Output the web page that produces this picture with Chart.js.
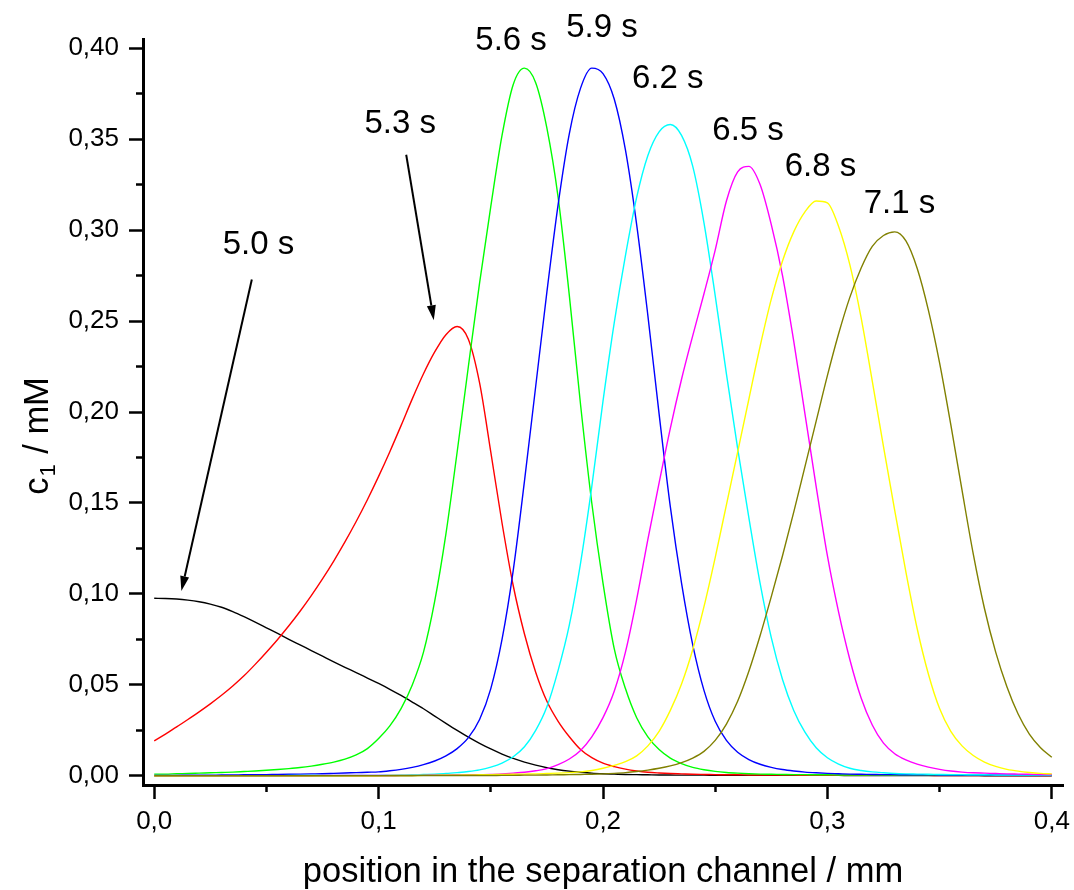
<!DOCTYPE html>
<html>
<head>
<meta charset="utf-8">
<script src="https://cdn.jsdelivr.net/npm/chart.js@4.4.1/dist/chart.umd.min.js"></script>
<style>
  html, body { margin: 0; padding: 0; background: #fff; }
  canvas { display: block; }
</style>
</head>
<body>
<canvas id="myChart" width="1074" height="890"></canvas>
<script>
// posiciones a lo largo del canal (mm)
const xs = [
  0.000, 0.005, 0.010, 0.015, 0.020, 0.025, 0.030, 0.035, 0.040, 0.045,
  0.050, 0.055, 0.060, 0.065, 0.070, 0.075, 0.080, 0.085, 0.090, 0.095,
  0.100, 0.105, 0.110, 0.115, 0.120, 0.125, 0.130, 0.135, 0.140, 0.145,
  0.150, 0.155, 0.160, 0.165, 0.170, 0.175, 0.180, 0.185, 0.190, 0.195,
  0.200, 0.205, 0.210, 0.215, 0.220, 0.225, 0.230, 0.235, 0.240, 0.245,
  0.250, 0.255, 0.260, 0.265, 0.270, 0.275, 0.280, 0.285, 0.290, 0.295,
  0.300, 0.305, 0.310, 0.315, 0.320, 0.325, 0.330, 0.335, 0.340, 0.345,
  0.350, 0.355, 0.360, 0.365, 0.370, 0.375, 0.380, 0.385, 0.390, 0.395,
  0.400
];

// c1 (mM) para cada tiempo
const c_50 = [
  0.0976, 0.0975, 0.0972, 0.0966, 0.0957, 0.0944, 0.0927, 0.0903, 0.0875, 0.0845,
  0.0814, 0.0783, 0.0751, 0.0720, 0.0689, 0.0658, 0.0627, 0.0597, 0.0568, 0.0538,
  0.0508, 0.0476, 0.0442, 0.0406, 0.0369, 0.0329, 0.0289, 0.0250, 0.0213, 0.0179,
  0.0148, 0.0120, 0.0096, 0.0076, 0.0059, 0.0045, 0.0034, 0.0026, 0.0020, 0.0015,
  0.0012, 0.0010, 0.0008, 0.0007, 0.0006, 0.0005, 0.0005, 0.0004, 0.0004, 0.0004,
  0.0003, 0.0003, 0.0003, 0.0003, 0.0003, 0.0003, 0.0003, 0.0003, 0.0003, 0.0003,
  0.0003, 0.0003, 0.0002, 0.0002, 0.0002, 0.0002, 0.0002, 0.0002, 0.0002, 0.0002,
  0.0002, 0.0002, 0.0002, 0.0002, 0.0001, 0.0001, 0.0001, 0.0001, 0.0001, 0.0001,
  0.0001
];
const c_53 = [
  0.0192, 0.0230, 0.0269, 0.0310, 0.0352, 0.0396, 0.0443, 0.0494, 0.0550, 0.0613,
  0.0680, 0.0750, 0.0825, 0.0905, 0.0991, 0.1083, 0.1181, 0.1286, 0.1398, 0.1518,
  0.1646, 0.1782, 0.1925, 0.2072, 0.2210, 0.2330, 0.2425, 0.2470, 0.2400, 0.2160,
  0.1780, 0.1390, 0.1045, 0.0780, 0.0570, 0.0410, 0.0300, 0.0215, 0.0145, 0.0100,
  0.0070, 0.0051, 0.0037, 0.0027, 0.0020, 0.0016, 0.0013, 0.0011, 0.0009, 0.0008,
  0.0007, 0.0006, 0.0006, 0.0005, 0.0005, 0.0004, 0.0004, 0.0004, 0.0003, 0.0003,
  0.0003, 0.0003, 0.0003, 0.0003, 0.0003, 0.0003, 0.0003, 0.0003, 0.0003, 0.0003,
  0.0002, 0.0002, 0.0002, 0.0002, 0.0002, 0.0002, 0.0002, 0.0002, 0.0002, 0.0002,
  0.0002
];
const c_56 = [
  0.0010, 0.0010, 0.0012, 0.0013, 0.0015, 0.0017, 0.0019, 0.0021, 0.0024, 0.0027,
  0.0031, 0.0035, 0.0040, 0.0046, 0.0054, 0.0064, 0.0076, 0.0092, 0.0115, 0.0150,
  0.0205, 0.0275, 0.0370, 0.0500, 0.0680, 0.0960, 0.1330, 0.1780, 0.2250, 0.2710,
  0.3130, 0.3520, 0.3800, 0.3890, 0.3810, 0.3560, 0.3180, 0.2640, 0.2040, 0.1500,
  0.1060, 0.0700, 0.0480, 0.0320, 0.0215, 0.0145, 0.0098, 0.0068, 0.0047, 0.0034,
  0.0025, 0.0019, 0.0015, 0.0012, 0.0010, 0.0009, 0.0008, 0.0007, 0.0007, 0.0006,
  0.0006, 0.0005, 0.0005, 0.0005, 0.0005, 0.0004, 0.0004, 0.0004, 0.0004, 0.0004,
  0.0004, 0.0003, 0.0003, 0.0003, 0.0003, 0.0003, 0.0003, 0.0003, 0.0003, 0.0003,
  0.0003
];
const c_59 = [
  0.0003, 0.0003, 0.0003, 0.0004, 0.0004, 0.0004, 0.0005, 0.0005, 0.0006, 0.0006,
  0.0007, 0.0008, 0.0009, 0.0010, 0.0011, 0.0012, 0.0014, 0.0016, 0.0018, 0.0020,
  0.0022, 0.0028, 0.0036, 0.0047, 0.0062, 0.0082, 0.0110, 0.0150, 0.0210, 0.0310,
  0.0480, 0.0750, 0.1130, 0.1620, 0.2140, 0.2660, 0.3140, 0.3530, 0.3780, 0.3890,
  0.3860, 0.3720, 0.3440, 0.3030, 0.2530, 0.1990, 0.1480, 0.1060, 0.0720, 0.0470,
  0.0300, 0.0195, 0.0130, 0.0090, 0.0064, 0.0047, 0.0035, 0.0027, 0.0021, 0.0017,
  0.0014, 0.0012, 0.0010, 0.0009, 0.0008, 0.0007, 0.0007, 0.0006, 0.0006, 0.0006,
  0.0005, 0.0005, 0.0005, 0.0005, 0.0005, 0.0005, 0.0005, 0.0005, 0.0005, 0.0005,
  0.0005
];
const c_62 = [
  0.0001, 0.0001, 0.0001, 0.0001, 0.0001, 0.0001, 0.0001, 0.0001, 0.0001, 0.0001,
  0.0001, 0.0001, 0.0002, 0.0002, 0.0002, 0.0002, 0.0002, 0.0003, 0.0003, 0.0003,
  0.0003, 0.0004, 0.0005, 0.0006, 0.0008, 0.0010, 0.0013, 0.0018, 0.0024, 0.0033,
  0.0048, 0.0070, 0.0105, 0.0160, 0.0250, 0.0380, 0.0580, 0.0830, 0.1170, 0.1590,
  0.2060, 0.2490, 0.2860, 0.3180, 0.3410, 0.3540, 0.3580, 0.3520, 0.3350, 0.3040,
  0.2640, 0.2210, 0.1800, 0.1420, 0.1060, 0.0760, 0.0530, 0.0360, 0.0240, 0.0155,
  0.0100, 0.0065, 0.0042, 0.0030, 0.0022, 0.0017, 0.0013, 0.0011, 0.0010, 0.0009,
  0.0008, 0.0007, 0.0007, 0.0006, 0.0006, 0.0005, 0.0005, 0.0005, 0.0004, 0.0004,
  0.0004
];
const c_65 = [
  0.0001, 0.0001, 0.0001, 0.0001, 0.0001, 0.0001, 0.0001, 0.0001, 0.0001, 0.0001,
  0.0001, 0.0001, 0.0001, 0.0001, 0.0001, 0.0002, 0.0002, 0.0002, 0.0002, 0.0002,
  0.0002, 0.0002, 0.0003, 0.0003, 0.0003, 0.0004, 0.0004, 0.0005, 0.0006, 0.0007,
  0.0008, 0.0011, 0.0015, 0.0020, 0.0028, 0.0040, 0.0062, 0.0093, 0.0140, 0.0215,
  0.0320, 0.0465, 0.0680, 0.0970, 0.1300, 0.1610, 0.1910, 0.2180, 0.2420, 0.2650,
  0.2890, 0.3160, 0.3320, 0.3350, 0.3250, 0.3030, 0.2750, 0.2390, 0.1990, 0.1590,
  0.1210, 0.0900, 0.0640, 0.0430, 0.0280, 0.0180, 0.0122, 0.0088, 0.0065, 0.0048,
  0.0036, 0.0027, 0.0021, 0.0017, 0.0015, 0.0013, 0.0011, 0.0010, 0.0009, 0.0008,
  0.0008
];
const c_68 = [
  0.0001, 0.0001, 0.0001, 0.0001, 0.0001, 0.0001, 0.0001, 0.0001, 0.0001, 0.0001,
  0.0001, 0.0001, 0.0001, 0.0001, 0.0001, 0.0001, 0.0001, 0.0001, 0.0001, 0.0001,
  0.0001, 0.0002, 0.0002, 0.0002, 0.0003, 0.0003, 0.0004, 0.0004, 0.0005, 0.0006,
  0.0007, 0.0008, 0.0009, 0.0010, 0.0011, 0.0013, 0.0015, 0.0018, 0.0022, 0.0030,
  0.0042, 0.0058, 0.0078, 0.0110, 0.0165, 0.0245, 0.0360, 0.0505, 0.0695, 0.0930,
  0.1200, 0.1490, 0.1780, 0.2070, 0.2360, 0.2620, 0.2830, 0.2990, 0.3100, 0.3160,
  0.3150, 0.3020, 0.2810, 0.2520, 0.2170, 0.1810, 0.1460, 0.1120, 0.0810, 0.0560,
  0.0370, 0.0245, 0.0165, 0.0112, 0.0076, 0.0052, 0.0036, 0.0026, 0.0019, 0.0014,
  0.0011
];
const c_71 = [
  0.0001, 0.0001, 0.0001, 0.0001, 0.0001, 0.0001, 0.0001, 0.0001, 0.0001, 0.0001,
  0.0001, 0.0001, 0.0001, 0.0001, 0.0001, 0.0001, 0.0001, 0.0001, 0.0001, 0.0001,
  0.0001, 0.0001, 0.0001, 0.0001, 0.0002, 0.0002, 0.0002, 0.0002, 0.0002, 0.0002,
  0.0002, 0.0003, 0.0003, 0.0004, 0.0004, 0.0005, 0.0006, 0.0007, 0.0008, 0.0009,
  0.0011, 0.0014, 0.0018, 0.0024, 0.0032, 0.0042, 0.0055, 0.0073, 0.0098, 0.0135,
  0.0195, 0.0285, 0.0410, 0.0575, 0.0770, 0.0985, 0.1210, 0.1450, 0.1700, 0.1950,
  0.2200, 0.2430, 0.2630, 0.2790, 0.2910, 0.2970, 0.2990, 0.2940, 0.2790, 0.2560,
  0.2270, 0.1930, 0.1570, 0.1220, 0.0920, 0.0680, 0.0490, 0.0340, 0.0230, 0.0155,
  0.0102
];

const series = [c_50, c_53, c_56, c_59, c_62, c_65, c_68, c_71];
const colores = ['#000000', '#ff0000', '#00ff00', '#0000ff', '#00ffff', '#ff00ff', '#ffff00', '#808000'];
const tiempos = ['5.0 s', '5.3 s', '5.6 s', '5.9 s', '6.2 s', '6.5 s', '6.8 s', '7.1 s'];

// marcas de los ejes
const xTicks = [0, 0.1, 0.2, 0.3, 0.4];
const xMinorTicks = [0.05, 0.15, 0.25, 0.35];
const yTicks = [0, 0.05, 0.10, 0.15, 0.20, 0.25, 0.30, 0.35, 0.40];
const yMinorTicks = [0.025, 0.075, 0.125, 0.175, 0.225, 0.275, 0.325, 0.375];
const xMin = -0.005, xMax = 0.405;
const yMin = -0.005, yMax = 0.405;

// etiquetas de tiempo (en coordenadas de datos) y flechas
const etiquetas = [
  { text: '5.0 s', x: 0.0305, y: 0.287 },
  { text: '5.3 s', x: 0.0937, y: 0.3533 },
  { text: '5.6 s', x: 0.1431, y: 0.3990 },
  { text: '5.9 s', x: 0.1836, y: 0.4062 },
  { text: '6.2 s', x: 0.2129, y: 0.3780 },
  { text: '6.5 s', x: 0.2487, y: 0.3496 },
  { text: '6.8 s', x: 0.2810, y: 0.3299 },
  { text: '7.1 s', x: 0.3162, y: 0.3094 }
];
const flechas = [
  { x0: 0.0435, y0: 0.2728, x1: 0.0121, y1: 0.1016 },
  { x0: 0.1123, y0: 0.3414, x1: 0.1246, y1: 0.2504 }
];

const FUENTE = "'Liberation Sans', Arial, sans-serif";

const datasets = series.map((vals, i) => ({
  label: tiempos[i],
  data: xs.map((x, j) => ({ x: x, y: vals[j] })),
  borderColor: colores[i],
  borderWidth: 1.4,
  pointRadius: 0,
  fill: false,
  cubicInterpolationMode: 'monotone',
  order: series.length - i
}));

const anotaciones = {
  id: 'anotaciones',
  afterDraw(chart) {
    const ctx = chart.ctx;
    const sx = chart.scales.x;
    const sy = chart.scales.y;
    const area = chart.chartArea;
    ctx.save();
    ctx.fillStyle = '#000';
    ctx.strokeStyle = '#000';

    // textos de los tiempos
    ctx.font = '33px ' + FUENTE;
    ctx.textAlign = 'left';
    ctx.textBaseline = 'alphabetic';
    etiquetas.forEach(e => {
      ctx.fillText(e.text, sx.getPixelForValue(e.x), sy.getPixelForValue(e.y));
    });

    // flechas
    flechas.forEach(f => {
      const ax = sx.getPixelForValue(f.x0), ay = sy.getPixelForValue(f.y0);
      const bx = sx.getPixelForValue(f.x1), by = sy.getPixelForValue(f.y1);
      const ang = Math.atan2(by - ay, bx - ax);
      const largo = 15, ancho = 4.5;
      const cx = bx - largo * Math.cos(ang), cy = by - largo * Math.sin(ang);
      ctx.lineWidth = 2;
      ctx.beginPath();
      ctx.moveTo(ax, ay);
      ctx.lineTo(cx, cy);
      ctx.stroke();
      ctx.beginPath();
      ctx.moveTo(bx, by);
      ctx.lineTo(cx + ancho * Math.sin(ang), cy - ancho * Math.cos(ang));
      ctx.lineTo(cx - ancho * Math.sin(ang), cy + ancho * Math.cos(ang));
      ctx.closePath();
      ctx.fill();
    });

    // titulo eje x
    ctx.font = '34.5px ' + FUENTE;
    ctx.textAlign = 'center';
    ctx.fillText('position in the separation channel / mm', (area.left + area.right) / 2, 882);

    // titulo eje y con subindice
    ctx.translate(48, 437);
    ctx.rotate(-Math.PI / 2);
    ctx.textAlign = 'left';
    ctx.font = '34.5px ' + FUENTE;
    const wc = ctx.measureText('c').width;
    const wr = ctx.measureText(' / mM').width;
    ctx.font = '22px ' + FUENTE;
    const w1 = ctx.measureText('1').width;
    let px = -(wc + w1 + wr) / 2;
    ctx.font = '34.5px ' + FUENTE;
    ctx.fillText('c', px, 0);
    px += wc + 1;
    ctx.font = '22px ' + FUENTE;
    ctx.fillText('1', px, 7);
    px += w1 + 1;
    ctx.font = '34.5px ' + FUENTE;
    ctx.fillText(' / mM', px, 0);
    ctx.restore();
  }
};

const tickFont = { family: FUENTE, size: 26 };

let miCanvas = document.getElementById('myChart').getContext('2d');

var chart = new Chart(miCanvas, {
  type: 'line',
  data: { datasets: datasets },
  options: {
    responsive: false,
    animation: false,
    devicePixelRatio: 1,
    layout: { padding: { top: 39, right: 11, bottom: 0, left: 0 } },
    plugins: {
      legend: { display: false },
      tooltip: { enabled: false }
    },
    scales: {
      x: {
        type: 'linear', position: 'bottom', min: xMin, max: xMax, weight: 1,
        afterBuildTicks: s => { s.ticks = xTicks.map(v => ({ value: v })); },
        afterFit: s => { s.height = 105; s.paddingLeft = 0; s.paddingRight = 0; },
        ticks: {
          callback: v => v.toFixed(1).replace('.', ','),
          font: tickFont, color: '#000', padding: 7, autoSkip: false, maxRotation: 0
        },
        grid: { drawOnChartArea: false, drawTicks: true, tickLength: 14, tickWidth: 2.5, tickColor: '#000' },
        border: { display: true, color: '#000', width: 3 }
      },
      xMinor: {
        type: 'linear', position: 'bottom', min: xMin, max: xMax, weight: 0,
        afterBuildTicks: s => { s.ticks = xMinorTicks.map(v => ({ value: v })); },
        afterFit: s => { s.height = 0; s.paddingLeft = 0; s.paddingRight = 0; },
        ticks: { display: false },
        grid: { drawOnChartArea: false, drawTicks: true, tickLength: 7, tickWidth: 2.5, tickColor: '#000' },
        border: { display: false }
      },
      y: {
        type: 'linear', position: 'left', min: yMin, max: yMax, weight: 1,
        afterBuildTicks: s => { s.ticks = yTicks.map(v => ({ value: v })); },
        afterFit: s => { s.width = 143; s.paddingTop = 0; s.paddingBottom = 0; },
        ticks: {
          callback: v => v.toFixed(2).replace('.', ','),
          font: tickFont, color: '#000', padding: 10, autoSkip: false
        },
        grid: { drawOnChartArea: false, drawTicks: true, tickLength: 14, tickWidth: 2.5, tickColor: '#000' },
        border: { display: true, color: '#000', width: 3 }
      },
      yMinor: {
        type: 'linear', position: 'left', min: yMin, max: yMax, weight: 0,
        afterBuildTicks: s => { s.ticks = yMinorTicks.map(v => ({ value: v })); },
        afterFit: s => { s.width = 0; s.paddingTop = 0; s.paddingBottom = 0; },
        ticks: { display: false },
        grid: { drawOnChartArea: false, drawTicks: true, tickLength: 7, tickWidth: 2.5, tickColor: '#000' },
        border: { display: false }
      }
    }
  },
  plugins: [anotaciones]
});
</script>
</body>
</html>
